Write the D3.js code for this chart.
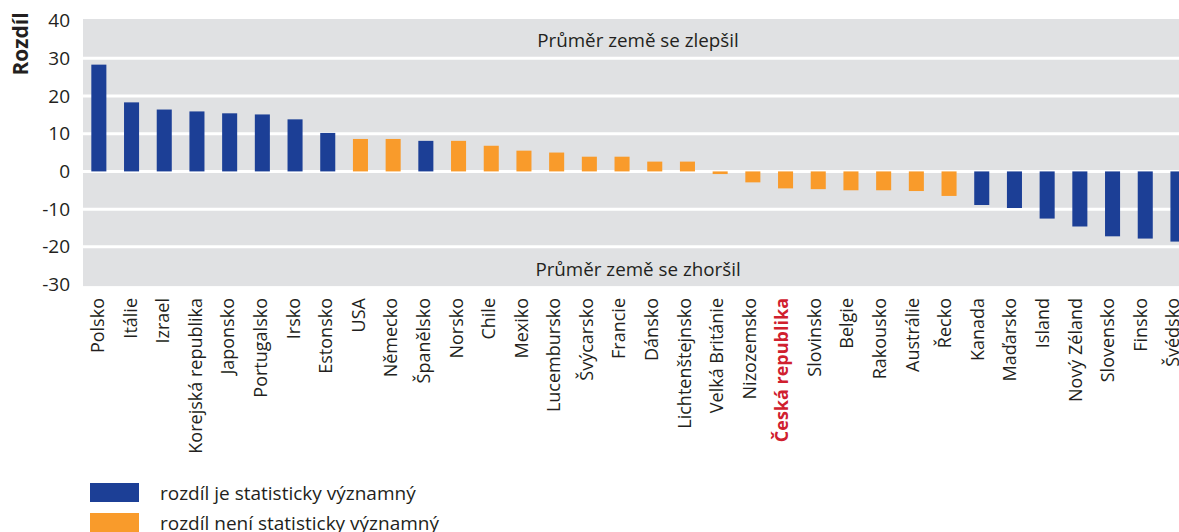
<!DOCTYPE html>
<html>
<head>
<meta charset="utf-8">
<script src="https://cdn.jsdelivr.net/npm/d3@7"></script>
<style>
  body { margin: 0; background: #fff; }
  svg { display: block; font-family: "Open Sans", "Noto Sans", sans-serif; }
</style>
</head>
<body>
<div class="chart"></div>
<script>
const countries = ['Polsko', 'Itálie', 'Izrael', 'Korejská republika', 'Japonsko', 'Portugalsko', 'Irsko',
    'Estonsko', 'USA', 'Německo', 'Španělsko', 'Norsko', 'Chile', 'Mexiko', 'Lucembursko', 'Švýcarsko',
    'Francie', 'Dánsko', 'Lichtenštejnsko', 'Velká Británie', 'Nizozemsko', 'Česká republika', 'Slovinsko',
    'Belgie', 'Rakousko', 'Austrálie', 'Řecko', 'Kanada', 'Maďarsko', 'Island', 'Nový Zéland', 'Slovensko',
    'Finsko', 'Švédsko'];
const diffs = [28.3, 18.3, 16.4, 15.9, 15.4, 15.1, 13.8, 10.2, 8.6, 8.6, 8.1, 8.1, 6.8, 5.5, 5.0, 3.9,
    3.9, 2.6, 2.6, -0.7, -2.9, -4.5, -4.7, -5.0, -5.0, -5.2, -6.5, -8.9, -9.7, -12.5, -14.6, -17.2,
    -17.8, -18.6];
// 1 = rozdíl je statisticky významný
const significant = [1, 1, 1, 1, 1, 1, 1, 1, 0, 0, 1, 0, 0, 0, 0, 0,
    0, 0, 0, 0, 0, 0, 0, 0, 0, 0, 0, 1, 1, 1, 1, 1, 1, 1];
const yTicks = [40, 30, 20, 10, 0, -10, -20, -30];
const legendLabels = ['rozdíl je statisticky významný', 'rozdíl není statisticky významný'];
const highlight = 'Česká republika';

const blue = '#1c3f96';
const orange = '#f99b2b';
const panel = '#e0e1e3';
const textColor = '#231f20';

const outerWidth = 1179;
const outerHeight = 532;

const svg = d3.select('.chart').append('svg')
    .attr('width', outerWidth)
    .attr('height', outerHeight);

// Scales
const x = d3.scaleBand().domain(countries).range([82.5, 1194.3]).paddingInner(0.54).paddingOuter(0.27);
const y = d3.scaleLinear().domain([-30, 40]).range([284.6, 20.5]);

// Panel
svg.append('rect')
    .attr('x', 83)
    .attr('y', y(40) - 1.5)
    .attr('width', outerWidth - 83)
    .attr('height', y(-30) - y(40) + 3)
    .attr('fill', panel);

// Grid lines
svg.append('g')
    .selectAll('line')
    .data(yTicks.filter(d => d !== 40 && d !== -30))
    .join('line')
    .attr('x1', 83)
    .attr('x2', outerWidth)
    .attr('y1', d => y(d))
    .attr('y2', d => y(d))
    .attr('stroke', '#fff')
    .attr('stroke-width', 3);

// Panel texts
svg.append('text')
    .attr('x', 638)
    .attr('y', 47)
    .attr('text-anchor', 'middle')
    .attr('font-size', 18.8)
    .attr('fill', textColor)
    .text('Průměr země se zlepšil');
svg.append('text')
    .attr('x', 638)
    .attr('y', 276)
    .attr('text-anchor', 'middle')
    .attr('font-size', 18.8)
    .attr('fill', textColor)
    .text('Průměr země se zhoršil');

// Bars
svg.append('g')
    .selectAll('rect')
    .data(countries)
    .join('rect')
    .attr('x', d => x(d))
    .attr('width', x.bandwidth())
    .attr('y', (d, i) => y(Math.max(0, diffs[i])))
    .attr('height', (d, i) => Math.abs(y(diffs[i]) - y(0)))
    .attr('fill', (d, i) => significant[i] ? blue : orange);

// Y axis
const yAxis = d3.axisLeft(y).tickValues(yTicks).tickSize(0).tickPadding(0).tickFormat(d => String(d));
const gy = svg.append('g')
    .attr('transform', 'translate(70, 0)')
    .call(yAxis);
gy.select('.domain').remove();
gy.selectAll('text')
    .attr('font-size', 19)
    .attr('fill', textColor)
    .attr('font-family', '"Open Sans", sans-serif');

svg.append('text')
    .attr('transform', 'translate(28, 44) rotate(-90)')
    .attr('text-anchor', 'middle')
    .attr('font-size', 21)
    .attr('font-weight', 'bold')
    .attr('fill', textColor)
    .text('Rozdíl');

// X axis - labels drift slightly left of the bars towards the right end
const xAxis = d3.axisBottom(x).tickSize(0).tickPadding(0);
const gx = svg.append('g')
    .attr('transform', 'translate(0, 298)')
    .call(xAxis);
gx.select('.domain').remove();
gx.selectAll('text')
    .attr('font-size', 18)
    .attr('font-family', '"Open Sans", sans-serif')
    .attr('fill', d => d === highlight ? '#d0202e' : textColor)
    .attr('font-weight', d => d === highlight ? 'bold' : 'normal')
    .attr('text-anchor', 'end')
    .attr('dy', '0.35em')
    .attr('transform', (d, i) => `translate(${-1 - 4 * i / (countries.length - 1)}, 0) rotate(-90)`)
    .attr('x', 0)
    .attr('y', 0);

// Legend
const legend = svg.append('g')
    .selectAll('g')
    .data(legendLabels)
    .join('g')
    .attr('transform', (d, i) => `translate(90, ${483 + i * 30})`);
legend.append('rect')
    .attr('width', 49)
    .attr('height', 19)
    .attr('fill', (d, i) => i === 0 ? blue : orange);
legend.append('text')
    .attr('x', 70)
    .attr('y', 17)
    .attr('font-size', 19)
    .attr('fill', textColor)
    .text(d => d);
</script>
</body>
</html>
